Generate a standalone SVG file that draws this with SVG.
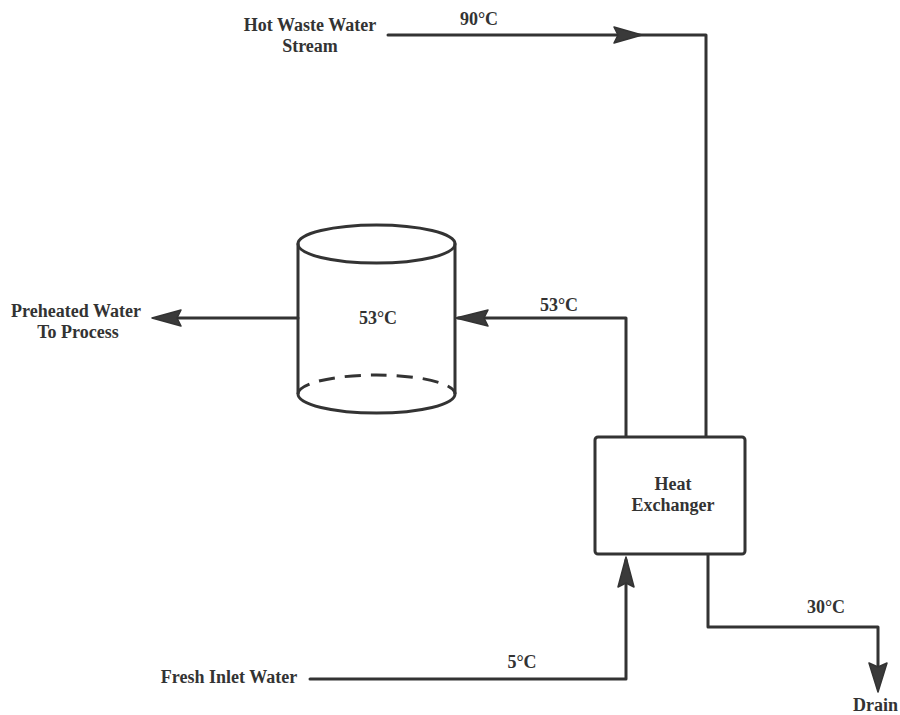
<svg xmlns="http://www.w3.org/2000/svg" width="900" height="715" viewBox="0 0 900 715">
<style>
.bg{fill:#ffffff}
.ln{fill:none;stroke:#333333;stroke-width:3;stroke-linejoin:round;stroke-linecap:round}
.dash{fill:none;stroke:#333333;stroke-width:3;stroke-dasharray:16 10}
.ah{fill:#3a3a3a;stroke:#333333;stroke-width:1.5;stroke-linejoin:round}
.body{fill:#ffffff;stroke:#333333;stroke-width:3}
text{font-family:"Liberation Serif","Times New Roman",serif;font-weight:bold;font-size:18px;fill:#333333;text-anchor:middle}
</style>
<rect class="bg" x="0" y="0" width="900" height="715"/>
<g id="connectors">
<path class="ln" d="M388,35 H706 V437"/>
<polygon class="ah" points="642,35 614,27 618,35 614,43"/>
<path class="ln" d="M626,437 V318 H458"/>
<polygon class="ah" points="456,318 488,310 484,318 488,326"/>
<path class="ln" d="M298,318 H160"/>
<polygon class="ah" points="152,318 181,310 177,318 181,326"/>
<path class="ln" d="M310,679 H626 V560"/>
<polygon class="ah" points="626,557 618,587 626,583 634,587"/>
<path class="ln" d="M708,555 V627 H878 V685"/>
<polygon class="ah" points="878,692 869,663 878,667 887,663"/>
</g>
<g id="tank">
<path class="ln" d="M298,244 V394 A78.5,19 0 0 0 455,394 V244"/>
<path class="dash" d="M298,394 A78.5,19 0 0 1 455,394"/>
<ellipse class="ln" cx="376.5" cy="244" rx="78.5" ry="19"/>
<text x="378" y="324">53°C</text>
</g>
<g id="heat-exchanger">
<rect class="body" x="595" y="437" width="150" height="117" rx="3"/>
<text x="673" y="490">Heat</text>
<text x="673" y="511">Exchanger</text>
</g>
<g id="labels">
<text x="310" y="31">Hot Waste Water</text>
<text x="310" y="52">Stream</text>
<text x="479" y="25">90°C</text>
<text x="559" y="311">53°C</text>
<text x="76" y="317">Preheated Water</text>
<text x="78" y="338">To Process</text>
<text x="229" y="683">Fresh Inlet Water</text>
<text x="522" y="668">5°C</text>
<text x="826" y="613">30°C</text>
<text x="898" y="711" style="text-anchor:end">Drain</text>
</g>
</svg>
